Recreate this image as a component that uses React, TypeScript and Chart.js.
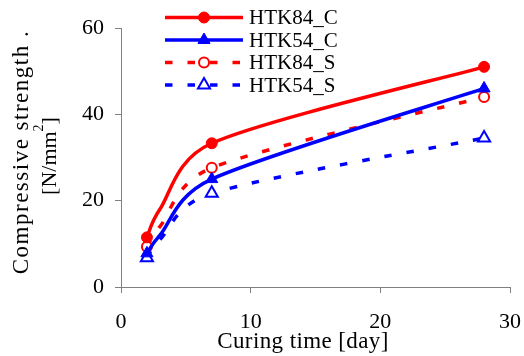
import React, { useEffect, useRef } from 'react';
import { Chart, registerables } from 'chart.js';

Chart.register(...registerables);

// ---- data ----
const days = [2, 3, 7, 28];
const htk84C = [11.5, 18, 33.3, 51];
const htk54C = [7.8, 12, 25, 46];
const htk84S = [9.3, 14, 27.6, 44];
const htk54S = [6.8, 11, 21.7, 34.5];
const markerShown = [true, false, true, true];
const seriesNames = ['HTK84_C', 'HTK54_C', 'HTK84_S', 'HTK54_S'];
const xTitle = 'Curing time [day]';
const yTitleLine1 = 'Compressive strength .';
const yTitleLine2 = ['[N/mm', '2', ']'];

const FONT = '"Liberation Serif", "Times New Roman", serif';
const RED = '#ff0000';
const BLUE = '#0000ff';
const AXIS = '#808080';

type Style = { color: string; dash: number[]; shape: 'circle' | 'triangle'; filled: boolean; r: number };
const styles: Style[] = [
  { color: RED, dash: [], shape: 'circle', filled: true, r: 5.5 },
  { color: BLUE, dash: [], shape: 'triangle', filled: true, r: 7 },
  { color: RED, dash: [7.5, 15], shape: 'circle', filled: false, r: 5 },
  { color: BLUE, dash: [7.5, 15], shape: 'triangle', filled: false, r: 7 },
];
const seriesValues = [htk84C, htk54C, htk84S, htk54S];

function drawMarker(ctx: CanvasRenderingContext2D, x: number, y: number, s: Style) {
  ctx.save();
  ctx.setLineDash([]);
  ctx.beginPath();
  if (s.shape === 'circle') {
    ctx.arc(x, y, s.r, 0, Math.PI * 2);
  } else {
    let rad = 0;
    ctx.moveTo(x + Math.sin(rad) * s.r, y - Math.cos(rad) * s.r);
    rad += (Math.PI * 2) / 3;
    ctx.lineTo(x + Math.sin(rad) * s.r, y - Math.cos(rad) * s.r);
    rad += (Math.PI * 2) / 3;
    ctx.lineTo(x + Math.sin(rad) * s.r, y - Math.cos(rad) * s.r);
    ctx.closePath();
  }
  ctx.fillStyle = s.filled ? s.color : '#ffffff';
  ctx.fill();
  ctx.lineWidth = s.filled ? 1 : 2;
  ctx.strokeStyle = s.color;
  ctx.stroke();
  ctx.restore();
}

// Excel-like smoothing of the line through its points (handles kept within the segment's x-range)
const LIMIT = 0.7;
const excelSmooth = {
  id: 'excelSmooth',
  beforeDatasetDraw(chart: any, args: any) {
    const meta = args.meta;
    const pts = meta.data;
    const n = pts.length;
    for (let i = 0; i < n; i++) {
      const p = pts[i];
      const prev = pts[Math.max(0, i - 1)];
      const next = pts[Math.min(n - 1, i + 1)];
      const tx = (next.x - prev.x) / 6;
      const ty = (next.y - prev.y) / 6;
      let kb = 1;
      let kf = 1;
      if (i > 0 && tx > 0) kb = Math.min(1, (LIMIT * (p.x - prev.x)) / tx);
      if (i < n - 1 && tx > 0) kf = Math.min(1, (LIMIT * (next.x - p.x)) / tx);
      p.cp1x = p.x - tx * kb;
      p.cp1y = p.y - ty * kb;
      p.cp2x = p.x + tx * kf;
      p.cp2y = p.y + ty * kf;
    }
    meta.dataset._pointsUpdated = true;
    meta.dataset._path = undefined;
  },
};

const decorations = {
  id: 'decorations',
  afterDraw(chart: any) {
    const ctx: CanvasRenderingContext2D = chart.ctx;
    // legend
    const rows = [17.5, 40, 62.5, 85];
    seriesNames.forEach((name, i) => {
      const s = styles[i];
      const y = rows[i];
      ctx.save();
      ctx.strokeStyle = s.color;
      ctx.lineWidth = 3.5;
      ctx.setLineDash(s.dash);
      ctx.beginPath();
      ctx.moveTo(165, y);
      ctx.lineTo(243, y);
      ctx.stroke();
      ctx.restore();
      drawMarker(ctx, 204, y, s);
      ctx.save();
      ctx.fillStyle = '#000';
      ctx.font = `21px ${FONT}`;
      ctx.textAlign = 'left';
      ctx.textBaseline = 'middle';
      ctx.fillText(name, 249, y + 1);
      ctx.restore();
    });
    // x axis title
    ctx.save();
    ctx.fillStyle = '#000';
    ctx.font = `23px ${FONT}`;
    (ctx as any).letterSpacing = '0.4px';
    ctx.textAlign = 'center';
    ctx.textBaseline = 'middle';
    ctx.fillText(xTitle, 303, 342);
    ctx.restore();

    // y axis title, line 1
    ctx.save();
    ctx.fillStyle = '#000';
    ctx.font = `23px ${FONT}`;
    (ctx as any).letterSpacing = '1.5px';
    ctx.textAlign = 'center';
    ctx.textBaseline = 'middle';
    ctx.translate(22, 152);
    ctx.rotate(-Math.PI / 2);
    ctx.fillText(yTitleLine1, 0, 0);
    ctx.restore();

    // y axis title, line 2 with superscript
    ctx.save();
    ctx.fillStyle = '#000';
    ctx.textBaseline = 'middle';
    ctx.translate(50, 156);
    ctx.rotate(-Math.PI / 2);
    ctx.font = `22px ${FONT}`;
    const w1 = ctx.measureText(yTitleLine2[0]).width;
    ctx.font = `14px ${FONT}`;
    const w2 = ctx.measureText(yTitleLine2[1]).width;
    ctx.font = `22px ${FONT}`;
    const w3 = ctx.measureText(yTitleLine2[2]).width;
    const x0 = -(w1 + w2 + w3) / 2;
    ctx.textAlign = 'left';
    ctx.fillText(yTitleLine2[0], x0, 0);
    ctx.font = `14px ${FONT}`;
    ctx.fillText(yTitleLine2[1], x0 + w1, -11);
    ctx.font = `22px ${FONT}`;
    ctx.fillText(yTitleLine2[2], x0 + w1 + w2, 0);
    ctx.restore();
  },
};

export default function App() {
  const canvasRef = useRef<HTMLCanvasElement | null>(null);

  useEffect(() => {
    if (!canvasRef.current) return;
    const datasets = seriesNames.map((name, i) => {
      const s = styles[i];
      return {
        label: name,
        data: days.map((d, j) => ({ x: d, y: seriesValues[i][j] })),
        borderColor: s.color,
        borderWidth: 3.5,
        borderDash: s.dash,
        tension: 0.4,
        fill: false,
        pointStyle: s.shape,
        pointRadius: markerShown.map((m) => (m ? s.r : 0)),
        pointBackgroundColor: s.filled ? s.color : '#ffffff',
        pointBorderColor: s.color,
        pointBorderWidth: s.filled ? 1 : 2,
      };
    });
    const tickFont = { family: FONT, size: 22 };
    const chart = new Chart(canvasRef.current, {
      type: 'line',
      data: { datasets },
      options: {
        animation: false,
        responsive: true,
        maintainAspectRatio: false,
        layout: { padding: { top: 28, right: 14, left: 0, bottom: 0 } },
        plugins: { legend: { display: false }, tooltip: { enabled: false } },
        scales: {
          x: {
            type: 'linear',
            min: 0,
            max: 30,
            ticks: { stepSize: 10, color: '#000', font: tickFont, padding: 16, maxRotation: 0 },
            grid: { display: true, drawOnChartArea: false, drawTicks: true, tickLength: 6, color: AXIS, lineWidth: 1 },
            border: { display: true, color: AXIS, width: 1 },
            afterFit: (s: any) => {
              s.height = 69;
              s.paddingLeft = 0;
              s.paddingRight = 0;
            },
          },
          y: {
            type: 'linear',
            min: 0,
            max: 60,
            ticks: { stepSize: 20, color: '#000', font: tickFont, padding: 11 },
            grid: { display: true, drawOnChartArea: false, drawTicks: true, tickLength: 6, color: AXIS, lineWidth: 1 },
            border: { display: true, color: AXIS, width: 1 },
            afterFit: (s: any) => {
              s.width = 121;
              s.paddingTop = 0;
              s.paddingBottom = 0;
            },
          },
        },
      },
      plugins: [excelSmooth, decorations],
    });
    return () => chart.destroy();
  }, []);

  return (
    <div style={{ position: 'absolute', left: 0, top: 0, width: 524, height: 356, background: '#fff' }}>
      <canvas ref={canvasRef} />
    </div>
  );
}
